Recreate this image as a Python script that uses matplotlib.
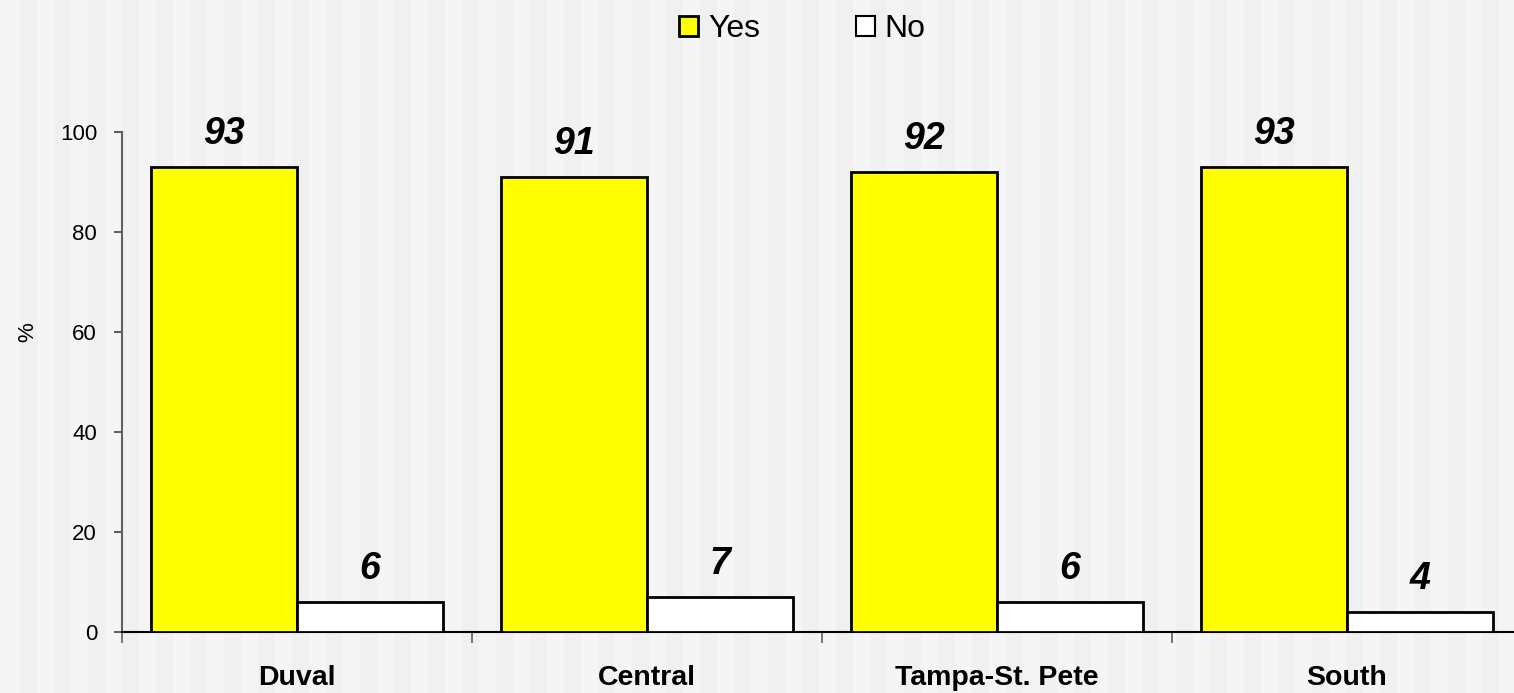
import matplotlib
matplotlib.use("Agg")
import matplotlib.pyplot as plt
from matplotlib.patches import Rectangle, Patch
import numpy as np

categories = ["Duval", "Central", "Tampa-St. Pete", "South"]
yes_vals = [93, 91, 92, 93]
no_vals = [6, 7, 6, 4]
series_names = ["Yes", "No"]
yticks = [0, 20, 40, 60, 80, 100]

plt.rcParams['font.family'] = ['Liberation Sans', 'DejaVu Sans']

W, H = 1514, 693
fig = plt.figure(figsize=(W / 100, H / 100), dpi=100)
fig.patch.set_facecolor('#F5F5F5')

# background vertical stripes
x0 = 20
while x0 < W:
    fig.patches.append(Rectangle((x0 / W, 0), 17 / W, 1, transform=fig.transFigure,
                                 facecolor='#F0F0F0', edgecolor='none', zorder=-10))
    x0 += 34

ax = fig.add_axes([122 / W, (H - 632) / H, 1400 / W, 500 / H])
ax.set_facecolor('none')

x = np.arange(len(categories))
bw = 146 / 350
b1 = ax.bar(x - bw / 2, yes_vals, bw, color='#FFFF00', edgecolor='black', linewidth=2, label=series_names[0], zorder=3)
b2 = ax.bar(x + bw / 2, no_vals, bw, color='white', edgecolor='black', linewidth=2, label=series_names[1], zorder=3)

for bars, vals in ((b1, yes_vals), (b2, no_vals)):
    for r, v in zip(bars, vals):
        ax.annotate(str(v), (r.get_x() + r.get_width() / 2, v), xytext=(0, 11), textcoords='offset points',
                    ha='center', va='bottom', fontsize=27, fontweight='bold', fontstyle='italic',
                    clip_on=False)

ax.set_xlim(-0.5, len(categories) - 0.5)
ax.set_ylim(0, 100)
ax.set_yticks(yticks)
ax.set_yticklabels([str(t) for t in yticks], fontsize=16)
ax.tick_params(axis='y', length=6, width=1.2, color='#404040', pad=12)

ax.set_xticks(x)
ax.set_xticklabels(categories, fontsize=20.5, fontweight='bold')
ax.tick_params(axis='x', which='major', length=0, pad=24)
ax.set_xticks(np.arange(len(categories) + 1) - 0.5, minor=True)
ax.tick_params(axis='x', which='minor', length=8, width=1.2, color='#606060', direction='out')

for s in ('top', 'right'):
    ax.spines[s].set_visible(False)
ax.spines['left'].set_color('#606060')
ax.spines['left'].set_linewidth(1.5)
ax.spines['bottom'].set_color('black')
ax.spines['bottom'].set_linewidth(1.5)

ax.set_ylabel('%', fontsize=16)
ax.yaxis.set_label_coords(-84 / 1400, 0.6)

handles = [Patch(facecolor='#FFFF00', edgecolor='black', linewidth=2, label=series_names[0]),
           Patch(facecolor='white', edgecolor='black', linewidth=1.5, label=series_names[1])]
leg = fig.legend(handles=handles, loc='upper left', bbox_to_anchor=(660 / W, 1.0 + 5 / H), ncol=2,
                 frameon=False, fontsize=23, handlelength=0.6, handleheight=0.6,
                 handletextpad=0.3, columnspacing=3.0, borderaxespad=0.2)

fig.savefig('out.png', dpi=100, facecolor=fig.get_facecolor())
